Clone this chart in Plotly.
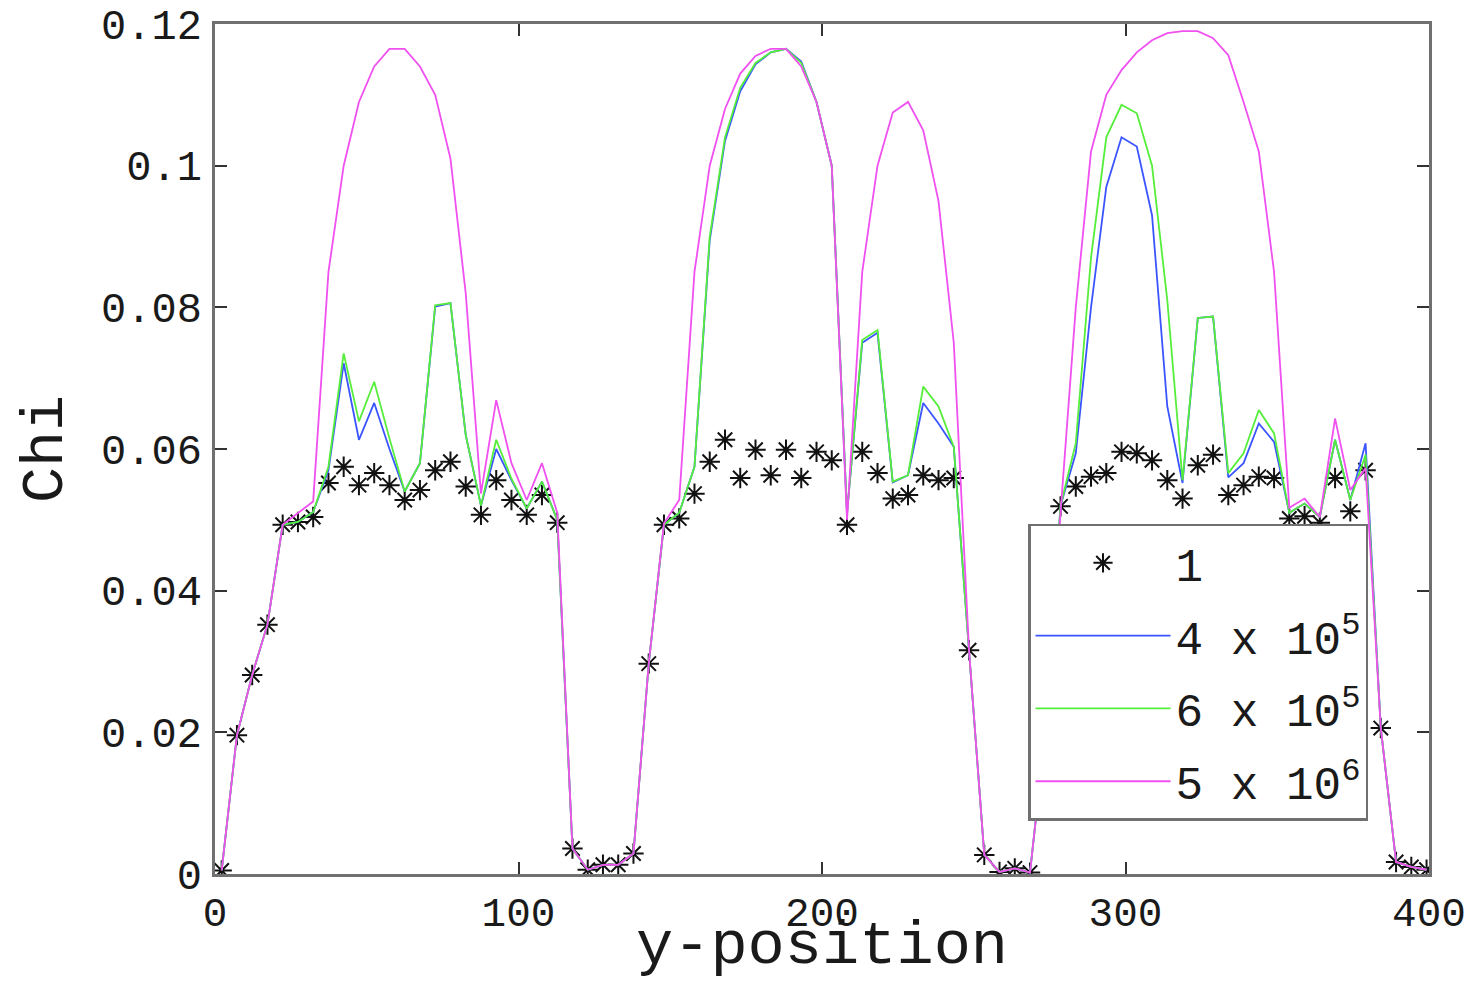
import numpy as np
import plotly.graph_objects as go

y_position = np.round(np.linspace(2.2, 399.2, 80), 2)

chi_1 = [0.0005, 0.0196, 0.0281, 0.0352, 0.0493, 0.0497, 0.0504, 0.0552, 0.0575, 0.0549,
         0.0566, 0.0549, 0.0528, 0.0542, 0.0570, 0.0582, 0.0547, 0.0507, 0.0556, 0.0528,
         0.0507, 0.0535, 0.0496, 0.0036, 0.0006, 0.0013, 0.0013, 0.0029, 0.0297, 0.0493,
         0.0502, 0.0537, 0.0582, 0.0613, 0.0559, 0.0599, 0.0563, 0.0599, 0.0559, 0.0596,
         0.0584, 0.0493, 0.0596, 0.0566, 0.0530, 0.0535, 0.0563, 0.0556, 0.0559, 0.0316,
         0.0027, 0.0003, 0.0008, 0.0002, 0.0200, 0.0519, 0.0547, 0.0561, 0.0566, 0.0596,
         0.0594, 0.0584, 0.0556, 0.0530, 0.0577, 0.0592, 0.0535, 0.0549, 0.0561, 0.0559,
         0.0502, 0.0505, 0.0496, 0.0559, 0.0512, 0.0570, 0.0206, 0.0017, 0.0010, 0.0006]

chi_4e5 = [0.0005, 0.0196, 0.0281, 0.0352, 0.0493, 0.0497, 0.0511, 0.0570, 0.0721, 0.0613,
           0.0665, 0.0600, 0.0540, 0.0580, 0.0801, 0.0806, 0.0620, 0.0520, 0.0600, 0.0556,
           0.0516, 0.0554, 0.0500, 0.0036, 0.0006, 0.0013, 0.0013, 0.0029, 0.0297, 0.0493,
           0.0510, 0.0575, 0.0895, 0.1035, 0.1105, 0.1143, 0.1160, 0.1165, 0.1147, 0.1090,
           0.1000, 0.0509, 0.0750, 0.0764, 0.0553, 0.0563, 0.0665, 0.0636, 0.0603, 0.0316,
           0.0027, 0.0003, 0.0008, 0.0002, 0.0200, 0.0520, 0.0594, 0.0800, 0.0970, 0.1040,
           0.1027, 0.0930, 0.0660, 0.0552, 0.0785, 0.0787, 0.0560, 0.0580, 0.0636, 0.0610,
           0.0510, 0.0523, 0.0504, 0.0613, 0.0528, 0.0608, 0.0206, 0.0017, 0.0010, 0.0006]

chi_6e5 = [0.0005, 0.0196, 0.0281, 0.0352, 0.0493, 0.0497, 0.0511, 0.0575, 0.0735, 0.0639,
           0.0695, 0.0615, 0.0540, 0.0580, 0.0803, 0.0806, 0.0620, 0.0520, 0.0613, 0.0558,
           0.0516, 0.0554, 0.0500, 0.0036, 0.0006, 0.0013, 0.0013, 0.0029, 0.0297, 0.0493,
           0.0510, 0.0575, 0.0900, 0.1040, 0.1110, 0.1145, 0.1160, 0.1165, 0.1145, 0.1090,
           0.1000, 0.0509, 0.0754, 0.0768, 0.0554, 0.0563, 0.0688, 0.0660, 0.0603, 0.0316,
           0.0027, 0.0003, 0.0008, 0.0002, 0.0200, 0.0520, 0.0608, 0.0870, 0.1040, 0.1086,
           0.1074, 0.1000, 0.0810, 0.0556, 0.0785, 0.0787, 0.0566, 0.0594, 0.0655, 0.0622,
           0.0510, 0.0523, 0.0504, 0.0613, 0.0528, 0.0592, 0.0206, 0.0017, 0.0010, 0.0006]

chi_5e6 = [0.0005, 0.0196, 0.0281, 0.0352, 0.0493, 0.0509, 0.0526, 0.0850, 0.1000, 0.1090,
           0.1140, 0.1165, 0.1165, 0.1140, 0.1100, 0.1010, 0.0820, 0.0537, 0.0669, 0.0580,
           0.0528, 0.0580, 0.0510, 0.0036, 0.0006, 0.0013, 0.0013, 0.0029, 0.0297, 0.0495,
           0.0528, 0.0850, 0.1000, 0.1080, 0.1130, 0.1155, 0.1165, 0.1165, 0.1140, 0.1090,
           0.1000, 0.0500, 0.0850, 0.1000, 0.1075, 0.1090, 0.1050, 0.0950, 0.0750, 0.0316,
           0.0027, 0.0003, 0.0008, 0.0002, 0.0200, 0.0510, 0.0800, 0.1020, 0.1100, 0.1135,
           0.1160, 0.1177, 0.1187, 0.1190, 0.1190, 0.1180, 0.1156, 0.1090, 0.1020, 0.0850,
           0.0517, 0.0530, 0.0504, 0.0643, 0.0542, 0.0573, 0.0206, 0.0017, 0.0010, 0.0006]

series_names = ["1", "4 x 10<sup>5</sup>", "6 x 10<sup>5</sup>", "5 x 10<sup>6</sup>"]
x_ticks = [0, 100, 200, 300, 400]
y_ticks = [0, 0.02, 0.04, 0.06, 0.08, 0.1, 0.12]
y_tick_text = ["0", "0.02", "0.04", "0.06", "0.08", "0.1", "0.12"]
x_title = "y-position"
y_title = "Chi"

FONT = "Liberation Mono"
AXIS = "#707070"
TXT = "#1a1a1a"

fig = go.Figure()
fig.add_trace(go.Scatter(x=y_position, y=chi_1, mode="markers", name=series_names[0],
                         legendgroup="a",
                         marker=dict(symbol="asterisk-open", size=17, color="#111111",
                                     line=dict(color="#111111", width=2))))
fig.add_trace(go.Scatter(x=y_position, y=chi_4e5, mode="lines", name=series_names[1],
                         legendgroup="b", line=dict(color="#3a55ff", width=1.8)))
fig.add_trace(go.Scatter(x=y_position, y=chi_6e5, mode="lines", name=series_names[2],
                         legendgroup="c", line=dict(color="#55ee3a", width=1.8)))
fig.add_trace(go.Scatter(x=y_position, y=chi_5e6, mode="lines", name=series_names[3],
                         legendgroup="d", line=dict(color="#f050f0", width=1.8)))

fig.update_layout(
    width=1477, height=984,
    margin=dict(l=215, r=48, t=24, b=110, pad=0),
    paper_bgcolor="white", plot_bgcolor="white",
    font=dict(family=FONT, color=TXT),
    showlegend=True,
    legend=dict(x=0.6697, y=0.4118, xanchor="left", yanchor="top",
                bgcolor="white", bordercolor=AXIS, borderwidth=2.5,
                font=dict(family=FONT, size=46, color=TXT),
                itemwidth=135, tracegroupgap=10),
    annotations=[dict(text=x_title, xref="paper", yref="paper", x=0.5, y=-0.1285,
                      xanchor="center", yanchor="bottom", showarrow=False, borderpad=0,
                      font=dict(family=FONT, size=62, color=TXT))],
)
fig.update_xaxes(range=[0, 400], tickvals=x_ticks, ticks="inside", ticklen=12, tickwidth=1.5,
                 tickcolor="#333", showline=True, linecolor=AXIS, linewidth=2.5, mirror="ticks",
                 showgrid=False, zeroline=False, automargin=False, ticklabelstandoff=0,
                 tickfont=dict(family=FONT, size=41, color=TXT))
fig.update_yaxes(range=[0, 0.12], tickvals=y_ticks, ticktext=y_tick_text, ticks="inside",
                 ticklen=12, tickwidth=1.5, tickcolor="#333", showline=True, linecolor=AXIS,
                 linewidth=2.5, mirror="ticks", showgrid=False, zeroline=False,
                 automargin=False, ticklabelstandoff=2,
                 tickfont=dict(family=FONT, size=42, color=TXT),
                 title=dict(text=y_title, font=dict(family=FONT, size=60, color=TXT),
                            standoff=20))

fig.write_html("out.html")
